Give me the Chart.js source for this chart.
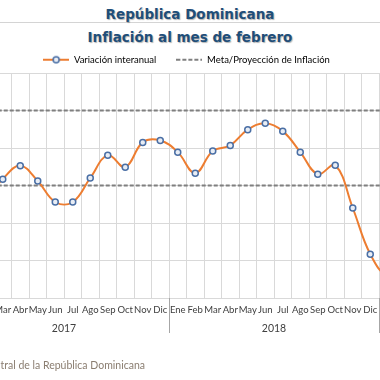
<!DOCTYPE html>
<html lang="es">
<head>
<meta charset="utf-8">
<title>Inflación al mes de febrero</title>
<script src="https://cdn.jsdelivr.net/npm/chart.js@4"></script>
<style>
  html, body { margin: 0; padding: 0; background: #fff; }
  body { width: 380px; height: 380px; position: relative; overflow: hidden; }
  .titulo { position: absolute; left: 0; width: 380px; text-align: center; font-family: "DejaVu Sans", sans-serif; font-weight: bold; font-size: 13.5px; color: #1f4e79; text-shadow: 1px 1px 1px rgba(0, 0, 0, 0.3); white-space: nowrap; }
  #t1 { top: 6px; }
  #t2 { top: 29px; }
  #sep { position: absolute; left: 0; top: 22px; width: 380px; height: 1px; background: #d4d4d4; }
  #wrap { position: absolute; left: -50px; top: 0; width: 480px; height: 380px; }
  #fuente { position: absolute; right: 235px; top: 359px; white-space: nowrap; font-family: Lato, sans-serif; font-size: 10.5px; color: #8a7d70; }
</style>
</head>
<body>
<div id="sep"></div>
<div class="titulo" id="t1">República Dominicana</div>
<div class="titulo" id="t2">Inflación al mes de febrero</div>
<div id="wrap"><canvas id="grafico"></canvas></div>
<div id="fuente">Fuente: Banco Central de la República Dominicana</div>
<script>
const meses = ["Ene", "Feb", "Mar", "Abr", "May", "Jun", "Jul", "Ago", "Sep", "Oct", "Nov", "Dic",
  "Ene", "Feb", "Mar", "Abr", "May", "Jun", "Jul", "Ago", "Sep", "Oct", "Nov", "Dic",
  "Ene", "Feb"];
const anios = ["2017", "2017", "2017", "2017", "2017", "2017", "2017", "2017", "2017", "2017", "2017", "2017",
  "2018", "2018", "2018", "2018", "2018", "2018", "2018", "2018", "2018", "2018", "2018", "2018",
  "2019", "2019"];
const variacion = [2.0, 2.6, 3.17, 3.53, 3.12, 2.56, 2.56, 3.20, 3.81, 3.49, 4.15, 4.20,
  3.89, 3.33, 3.92, 4.07, 4.49, 4.66, 4.45, 3.89, 3.30, 3.54, 2.40, 1.17,
  0.6, 0.9];
const metaSuperior = [5, 5, 5, 5, 5, 5, 5, 5, 5, 5, 5, 5, 5, 5, 5, 5, 5, 5, 5, 5, 5, 5, 5, 5, 5, 5];
const metaInferior = [3, 3, 3, 3, 3, 3, 3, 3, 3, 3, 3, 3, 3, 3, 3, 3, 3, 3, 3, 3, 3, 3, 3, 3, 3, 3];

const naranja = "#ed7d31";
const gris = "#7f7f7f";
const rejilla = "#d9d9d9";

// glyphs for the legend (line + marker, dashed line)
function glifo(conMarcador) {
  const c = document.createElement("canvas");
  c.width = 26;
  c.height = 10;
  const g = c.getContext("2d");
  g.lineWidth = 2;
  if (conMarcador) {
    g.strokeStyle = naranja;
    g.beginPath(); g.moveTo(0, 5); g.lineTo(26, 5); g.stroke();
    g.fillStyle = "#e8edf5";
    g.strokeStyle = "#4a6fa5";
    g.lineWidth = 1.5;
    g.beginPath(); g.arc(13, 5, 3, 0, Math.PI * 2); g.fill(); g.stroke();
  } else {
    g.strokeStyle = gris;
    g.setLineDash([4, 2]);
    g.beginPath(); g.moveTo(0, 5); g.lineTo(26, 5); g.stroke();
  }
  return c;
}

const aniosPlugin = {
  id: "anios",
  afterDraw(chart) {
    const x = chart.scales.x;
    const ctx = chart.ctx;
    const base = chart.chartArea.bottom;
    const paso = (x.getPixelForValue(1) - x.getPixelForValue(0)) / 2;
    ctx.save();
    ctx.strokeStyle = "#a6a6a6";
    ctx.lineWidth = 1;
    ctx.fillStyle = "#404040";
    ctx.font = "10.5px Lato, sans-serif";
    ctx.textAlign = "center";
    ctx.textBaseline = "middle";
    let inicio = 0;
    for (let i = 1; i <= anios.length; i++) {
      if (i === anios.length || anios[i] !== anios[inicio]) {
        const a = x.getPixelForValue(inicio);
        const b = x.getPixelForValue(i - 1);
        ctx.fillText(anios[inicio], (a + b) / 2, base + 31);
        [a - paso, b + paso].forEach((px) => {
          ctx.beginPath();
          ctx.moveTo(Math.round(px) + 0.5, base);
          ctx.lineTo(Math.round(px) + 0.5, base + 35);
          ctx.stroke();
        });
        inicio = i;
      }
    }
    ctx.restore();
  }
};

new Chart(document.getElementById("grafico"), {
  type: "line",
  data: {
    labels: meses,
    datasets: [
      {
        label: "Variación interanual",
        data: variacion,
        borderColor: naranja,
        borderWidth: 2,
        tension: 0.4,
        pointRadius: 3,
        pointBorderWidth: 1.5,
        pointBackgroundColor: "#e8edf5",
        pointBorderColor: "#4a6fa5",
        pointStyle: "circle"
      },
      {
        label: "Meta/Proyección de Inflación",
        data: metaSuperior,
        borderColor: gris,
        borderWidth: 2,
        borderDash: [4, 2],
        pointRadius: 0
      },
      {
        label: "meta inferior",
        data: metaInferior,
        borderColor: gris,
        borderWidth: 2,
        borderDash: [4, 2],
        pointRadius: 0
      }
    ]
  },
  options: {
    responsive: true,
    maintainAspectRatio: false,
    animation: false,
    layout: { padding: { top: 35, left: 9, right: 16, bottom: 0 } },
    plugins: {
      title: { display: false },
      tooltip: { enabled: false },
      legend: {
        position: "top",
        maxHeight: 38,
        labels: {
          usePointStyle: true,
          pointStyleWidth: 26,
          padding: 20,
          color: "#595959",
          font: { family: "Lato, sans-serif", size: 9.5 },
          generateLabels: (chart) => chart.data.datasets.slice(0, 2).map((ds, i) => ({
            text: ds.label,
            pointStyle: glifo(i === 0),
            fillStyle: "transparent",
            strokeStyle: "transparent",
            lineWidth: 0,
            datasetIndex: i
          }))
        }
      }
    },
    scales: {
      x: {
        offset: true,
        grid: { offset: true, color: rejilla, drawTicks: false },
        border: { color: rejilla },
        ticks: {
          autoSkip: false,
          maxRotation: 0,
          padding: 6,
          color: "#404040",
          font: { family: "Lato, sans-serif", size: 9.5 }
        },
        afterFit: (scale) => { scale.height = 82; }
      },
      y: {
        min: 0,
        max: 6,
        ticks: { stepSize: 1, display: false },
        grid: { color: rejilla, drawTicks: false },
        border: { display: false }
      }
    }
  },
  plugins: [aniosPlugin]
});
</script>
</body>
</html>
